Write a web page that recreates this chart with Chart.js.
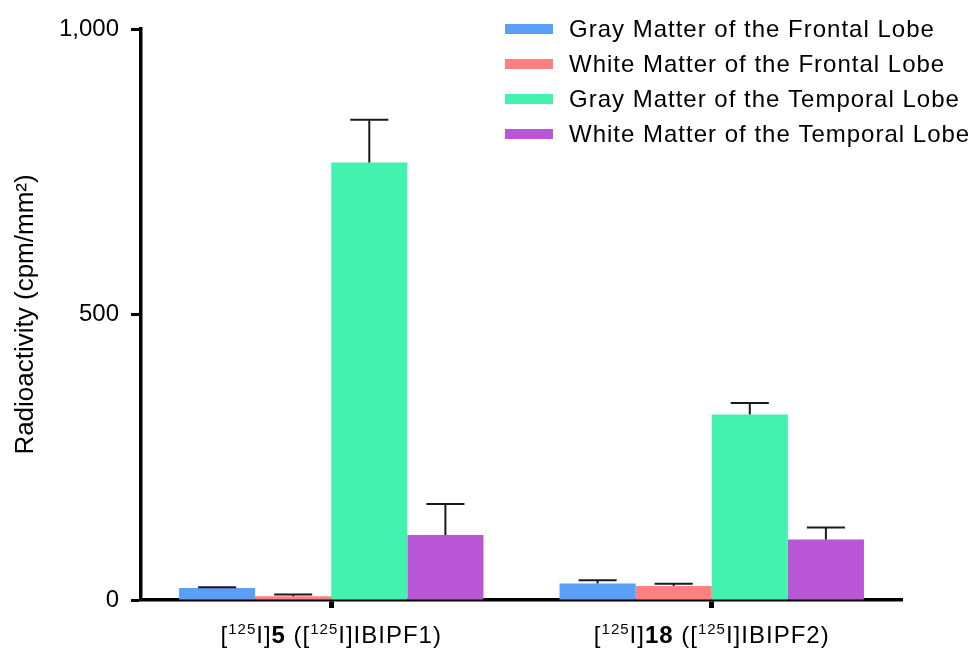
<!DOCTYPE html>
<html>
<head>
<meta charset="utf-8">
<script src="https://cdn.jsdelivr.net/npm/chart.js@4"></script>
<style>
  html, body { margin: 0; padding: 0; background: #fff; }
  #wrap { width: 977px; height: 650px; }
</style>
</head>
<body>
<div id="wrap"><canvas id="chartId"></canvas></div>
<script>
// ^..^ = superscript, *..* = bold
const categories = ['[^125^I]*5* ([^125^I]IBIPF1)', '[^125^I]*18* ([^125^I]IBIPF2)'];
const seriesNames = [
    'Gray Matter of the Frontal Lobe',
    'White Matter of the Frontal Lobe',
    'Gray Matter of the Temporal Lobe',
    'White Matter of the Temporal Lobe'
];
const grayFrontal = [21, 29];
const whiteFrontal = [6.5, 24.5];
const grayTemporal = [766, 325];
const whiteTemporal = [114, 106];
const grayFrontalErr = [1.5, 5.5];
const whiteFrontalErr = [3, 4];
const grayTemporalErr = [75, 20];
const whiteTemporalErr = [54, 21];
const yTicks = [0, 500, 1000];

const colors = ['#589ff5', '#fe8080', '#44f2b0', '#b856d5'];
const values = [grayFrontal, whiteFrontal, grayTemporal, whiteTemporal];
const errors = [grayFrontalErr, whiteFrontalErr, grayTemporalErr, whiteTemporalErr];

const FONT = '"Liberation Sans", Arial, sans-serif';

function plainLabel(s) {
    return s.replace(/[\^*]/g, '');
}

function parseParts(s) {
    const parts = [];
    const re = /\^([^^]+)\^|\*([^*]+)\*|([^^*]+)/g;
    let m;
    while ((m = re.exec(s)) !== null) {
        if (m[1]) parts.push({ t: m[1], sup: true });
        else if (m[2]) parts.push({ t: m[2], bold: true });
        else parts.push({ t: m[3] });
    }
    return parts;
}

const extras = {
    id: 'extras',
    beforeInit(chart) {
        chart.ctx.letterSpacing = '1px';
    },
    afterDatasetsDraw(chart) {
        const ctx = chart.ctx;
        const yScale = chart.scales.y;
        ctx.save();
        ctx.strokeStyle = '#1a1a1a';
        ctx.lineWidth = 2;
        chart.data.datasets.forEach((ds, i) => {
            const meta = chart.getDatasetMeta(i);
            meta.data.forEach((bar, j) => {
                const top = yScale.getPixelForValue(ds.data[j] + errors[i][j]);
                const half = bar.width / 4;
                ctx.beginPath();
                ctx.moveTo(bar.x, bar.y);
                ctx.lineTo(bar.x, top);
                ctx.moveTo(bar.x - half, top);
                ctx.lineTo(bar.x + half, top);
                ctx.stroke();
            });
        });
        ctx.restore();
    },
    afterDraw(chart) {
        const ctx = chart.ctx;
        const xScale = chart.scales.x;
        ctx.save();
        ctx.letterSpacing = '1px';
        ctx.fillStyle = '#000';
        ctx.textBaseline = 'alphabetic';
        // x category labels with superscripts and bold
        categories.forEach((cat, i) => {
            const parts = parseParts(cat);
            const fontOf = p => p.sup ? '15px ' + FONT : (p.bold ? 'bold 24px ' + FONT : '24px ' + FONT);
            let total = 0;
            parts.forEach(p => { ctx.font = fontOf(p); total += ctx.measureText(p.t).width; });
            let x = xScale.getPixelForValue(i) - total / 2;
            const base = 643;
            parts.forEach(p => {
                ctx.font = fontOf(p);
                ctx.fillText(p.t, x, p.sup ? base - 9 : base);
                x += ctx.measureText(p.t).width;
            });
        });
        // legend
        ctx.font = '24px ' + FONT;
        ctx.textBaseline = 'middle';
        chart.data.datasets.forEach((ds, i) => {
            const y = 29 + i * 35;
            ctx.fillStyle = ds.backgroundColor;
            ctx.fillRect(505, y - 5, 48, 10);
            ctx.fillStyle = '#000';
            ctx.fillText(ds.label, 569, y + 1);
        });
        ctx.restore();
    }
};

const ctx = document.getElementById('chartId').getContext('2d');

const data = {
    labels: categories.map(plainLabel),
    datasets: seriesNames.map((name, i) => ({
        label: name,
        data: values[i],
        backgroundColor: colors[i],
        borderWidth: 0,
        categoryPercentage: 0.8,
        barPercentage: 1.0
    }))
};

const options = {
    responsive: true,
    maintainAspectRatio: false,
    animation: false,
    layout: { padding: { left: 0, right: 75, top: 29, bottom: 0 } },
    plugins: {
        legend: { display: false },
        tooltip: { enabled: false }
    },
    scales: {
        x: {
            offset: true,
            grid: {
                display: true,
                offset: false,
                drawOnChartArea: false,
                drawTicks: true,
                tickLength: 8,
                tickWidth: 5,
                tickColor: '#000'
            },
            border: { display: true, color: '#000', width: 3.5 },
            ticks: { display: false },
            afterFit(scale) { scale.height = 50; }
        },
        y: {
            min: 0,
            max: 1000,
            afterBuildTicks(scale) { scale.ticks = yTicks.map(v => ({ value: v })); },
            grid: {
                display: true,
                drawOnChartArea: false,
                drawTicks: true,
                tickLength: 10,
                tickWidth: 3,
                tickColor: '#000'
            },
            border: { display: true, color: '#000', width: 3.5 },
            ticks: {
                color: '#000',
                padding: 12,
                font: { family: FONT, size: 24 },
                callback: v => v.toLocaleString('en-US')
            },
            title: {
                display: true,
                text: 'Radioactivity (cpm/mm²)',
                color: '#000',
                font: { family: FONT, size: 26 },
                padding: { top: 10, bottom: 0 }
            },
            afterFit(scale) { scale.width = 141; }
        }
    }
};

const chart = new Chart(ctx, {
    type: 'bar',
    data: data,
    options: options,
    plugins: [extras]
});
</script>
</body>
</html>
